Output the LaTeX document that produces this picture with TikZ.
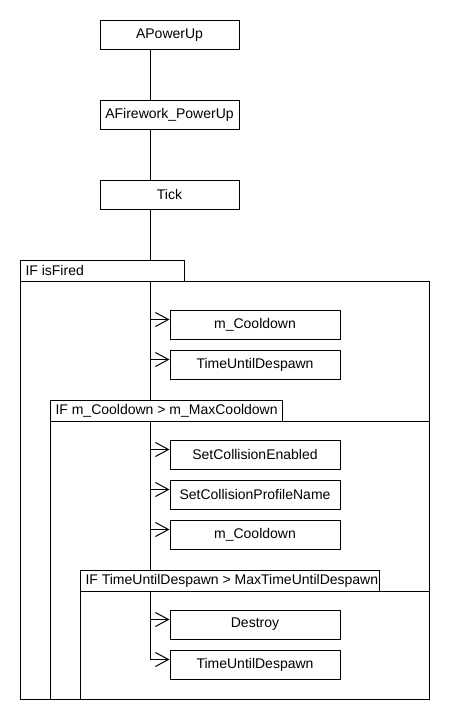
\documentclass[tikz,border=0pt]{standalone}
\usepackage{fontspec}
\setmainfont{Liberation Sans}
\usetikzlibrary{arrows.meta}
\begin{document}
\begin{tikzpicture}[x=1pt,y=-1pt,line width=1pt,
  font=\fontsize{14}{16}\selectfont,
  topbox/.style={draw,fill=white,minimum width=139pt,minimum height=29pt,inner sep=0pt},
  callbox/.style={draw,fill=white,minimum width=170pt,minimum height=29pt,inner sep=0pt},
  hdr/.style={anchor=west,inner sep=0pt},
  hdrbox/.style={draw,fill=white},
  arr/.style={-{Straight Barb[length=13pt,width=14pt,line width=1pt]}}]
\useasboundingbox (0,0) rectangle (450,720);
\fill[white] (0,0) rectangle (450,720);
\coordinate (L) at (150,0);
% top boxes
\node[topbox] (a) at (169.5,34.75) {APowerUp};
\node[topbox] (b) at (169.5,114.5) {AFirework\_PowerUp};
\node[topbox] (c) at (169.5,194.5) {Tick};
% inner boxes
\node[callbox] (m1) at (255,324.5) {m\_Cooldown};
\node[callbox] (m2) at (255,364.5) {TimeUntilDespawn};
\node[callbox] (m3) at (255,454.5) {SetCollisionEnabled};
\node[callbox] (m4) at (255,494.5) {SetCollisionProfileName};
\node[callbox] (m5) at (255,534.5) {m\_Cooldown};
\node[callbox] (m6) at (255,624.5) {Destroy};
\node[callbox] (m7) at (255,664.5) {TimeUntilDespawn};
% connectors between top boxes
\draw (a.south -| L) -- (b.north -| L);
\draw (b.south -| L) -- (c.north -| L);
% lifeline
\coordinate (E) at ([yshift=-10pt]m7.north west -| L);
\draw (c.south -| L) -- (E);
% frame bodies
\draw (20,281) rectangle (429,699);
\draw (50,421) rectangle (429,699);
\draw (80,591) rectangle (429,699);
% frame headers
\draw[hdrbox] (20,260) rectangle (184,281);
\node[hdr] (h1) at (25,270.5) {IF isFired};
\draw[hdrbox] (50,400) rectangle (282,421);
\node[hdr] (h2) at (55,410.5) {IF m\_Cooldown > m\_MaxCooldown};
\draw[hdrbox] (80,570) rectangle (379,591);
\node[hdr] (h3) at (85,580.5) {IF TimeUntilDespawn > MaxTimeUntilDespawn};
% arrows
\foreach \n in {m1,m2,m3,m4,m5,m6,m7}{
  \draw[arr] ([yshift=-10pt]\n.north west -| L) -- ([yshift=-10pt]\n.north west);
}
\end{tikzpicture}
\end{document}
